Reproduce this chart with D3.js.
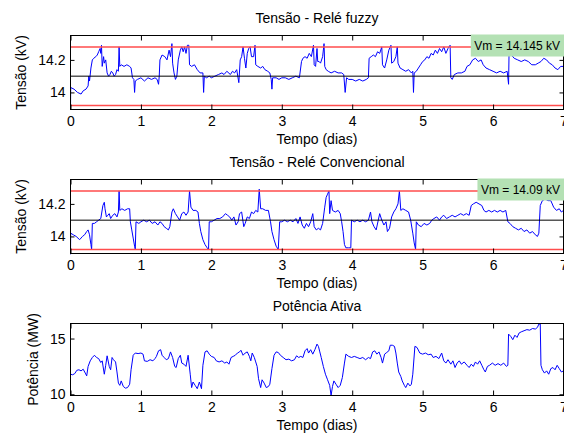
<!DOCTYPE html>
<html>
<head>
<meta charset="utf-8">
<script src="https://cdn.jsdelivr.net/npm/d3@7"></script>
<style>
  html, body { margin: 0; padding: 0; background: #fff; }
  svg { display: block; font-family: "Liberation Sans", Arial, Helvetica, sans-serif; }
</style>
</head>
<body>
<div id="chart"></div>
<script>
// ---------------------------------------------------------------------------
// data — [tempo (dias), valor]
// ---------------------------------------------------------------------------
const diasTicks = [0, 1, 2, 3, 4, 5, 6, 7];
const tensaoTicks = [14, 14.2];
const potenciaTicks = [10, 15];

const vNominal = 14.1;          // black line
const vLimites = [13.92, 14.28]; // red lines

const vmFuzzy = "Vm = 14.145 kV";
const vmConv = "Vm = 14.09 kV";

const tensaoFuzzy = [
  [0.000, 13.90], [0.003, 14.03], [0.05, 14.02], [0.10, 14.00], [0.15, 13.99], [0.18, 14.01],
  [0.22, 14.02], [0.25, 14.04], [0.26, 14.10], [0.27, 14.07], [0.29, 14.15], [0.31, 14.20],
  [0.33, 14.21], [0.36, 14.22], [0.38, 14.23], [0.40, 14.25], [0.42, 14.27], [0.43, 14.24],
  [0.44, 14.29], [0.45, 14.16], [0.47, 14.22], [0.48, 14.18], [0.50, 14.20], [0.52, 14.12],
  [0.54, 14.10], [0.56, 14.11], [0.58, 14.13], [0.60, 14.12], [0.62, 14.10], [0.64, 14.11],
  [0.66, 14.14], [0.68, 14.13], [0.69, 14.28], [0.70, 14.16], [0.72, 14.17], [0.76, 14.16],
  [0.80, 14.17], [0.84, 14.16], [0.86, 14.15], [0.88, 14.09], [0.90, 14.08], [0.91, 14.00],
  [0.92, 14.07], [0.95, 14.08], [1.00, 14.09], [1.05, 14.07], [1.10, 14.09], [1.15, 14.08],
  [1.20, 14.09], [1.23, 14.08], [1.25, 14.05], [1.26, 14.10], [1.27, 14.20], [1.30, 14.23],
  [1.34, 14.22], [1.37, 14.20], [1.40, 14.26], [1.42, 14.22], [1.44, 14.30], [1.45, 14.18],
  [1.47, 14.12], [1.49, 14.08], [1.51, 14.10], [1.53, 14.20], [1.56, 14.26], [1.58, 14.28],
  [1.60, 14.25], [1.62, 14.28], [1.64, 14.24], [1.66, 14.29], [1.68, 14.29], [1.69, 14.17],
  [1.72, 14.16], [1.76, 14.17], [1.80, 14.14], [1.84, 14.12], [1.88, 14.12], [1.89, 14.00],
  [1.90, 14.10], [1.93, 14.09], [1.97, 14.10], [2.00, 14.09], [2.05, 14.10], [2.10, 14.11],
  [2.15, 14.12], [2.18, 14.11], [2.22, 14.13], [2.27, 14.11], [2.30, 14.13], [2.33, 14.12],
  [2.36, 14.14], [2.39, 14.06], [2.41, 14.20], [2.43, 14.22], [2.45, 14.28], [2.47, 14.21],
  [2.49, 14.15], [2.51, 14.24], [2.53, 14.27], [2.55, 14.28], [2.57, 14.22], [2.60, 14.22],
  [2.62, 14.29], [2.63, 14.17], [2.66, 14.16], [2.70, 14.15], [2.73, 14.16], [2.76, 14.14],
  [2.80, 14.13], [2.83, 14.12], [2.85, 14.08], [2.86, 14.02], [2.87, 14.09], [2.92, 14.09],
  [2.96, 14.08], [3.00, 14.09], [3.05, 14.09], [3.10, 14.08], [3.15, 14.09], [3.20, 14.10],
  [3.25, 14.09], [3.28, 14.19], [3.30, 14.21], [3.33, 14.22], [3.36, 14.21], [3.39, 14.24],
  [3.42, 14.22], [3.45, 14.29], [3.46, 14.17], [3.48, 14.16], [3.50, 14.27], [3.51, 14.19],
  [3.53, 14.19], [3.55, 14.18], [3.58, 14.22], [3.60, 14.30], [3.61, 14.16], [3.63, 14.14],
  [3.66, 14.13], [3.70, 14.12], [3.75, 14.13], [3.80, 14.12], [3.85, 14.12], [3.88, 14.11],
  [3.90, 14.00], [3.92, 14.09], [3.95, 14.08], [4.00, 14.08], [4.05, 14.07], [4.10, 14.08],
  [4.15, 14.07], [4.20, 14.08], [4.23, 14.09], [4.24, 14.21], [4.27, 14.22], [4.30, 14.23],
  [4.33, 14.22], [4.36, 14.25], [4.39, 14.24], [4.42, 14.28], [4.43, 14.17], [4.46, 14.15],
  [4.49, 14.20], [4.52, 14.26], [4.55, 14.29], [4.56, 14.18], [4.59, 14.19], [4.62, 14.22],
  [4.64, 14.28], [4.65, 14.18], [4.68, 14.15], [4.72, 14.14], [4.76, 14.13], [4.80, 14.14],
  [4.84, 14.12], [4.86, 14.13], [4.87, 14.00], [4.88, 14.12], [4.91, 14.13], [4.94, 14.15],
  [4.97, 14.17], [5.00, 14.19], [5.03, 14.20], [5.06, 14.22], [5.09, 14.21], [5.12, 14.24],
  [5.15, 14.23], [5.18, 14.26], [5.21, 14.24], [5.24, 14.27], [5.27, 14.25], [5.30, 14.28],
  [5.33, 14.24], [5.36, 14.27], [5.39, 14.29], [5.40, 14.09], [5.42, 14.08], [5.45, 14.11],
  [5.50, 14.12], [5.55, 14.12], [5.60, 14.13], [5.63, 14.16], [5.67, 14.17], [5.71, 14.20],
  [5.75, 14.21], [5.79, 14.19], [5.83, 14.20], [5.86, 14.17], [5.90, 14.15], [5.95, 14.14],
  [6.00, 14.13], [6.05, 14.12], [6.10, 14.13], [6.15, 14.12], [6.20, 14.13], [6.22, 14.05],
  [6.23, 14.33], [6.26, 14.23], [6.30, 14.21], [6.35, 14.20], [6.40, 14.19], [6.45, 14.20],
  [6.50, 14.19], [6.55, 14.17], [6.60, 14.17], [6.64, 14.18], [6.68, 14.19], [6.72, 14.21],
  [6.76, 14.20], [6.80, 14.18], [6.84, 14.17], [6.88, 14.15], [6.92, 14.14], [6.96, 14.16],
  [7.00, 14.16]
];

const tensaoConv = [
  [0.000, 13.89], [0.003, 14.02], [0.04, 14.01], [0.08, 14.00], [0.13, 13.98], [0.17, 14.00],
  [0.20, 14.01], [0.23, 14.03], [0.25, 14.04], [0.27, 14.01], [0.29, 13.95], [0.30, 13.92],
  [0.31, 14.08], [0.34, 14.08], [0.37, 14.09], [0.40, 14.10], [0.43, 14.11], [0.46, 14.19],
  [0.48, 14.21], [0.49, 14.17], [0.51, 14.12], [0.53, 14.13], [0.55, 14.14], [0.57, 14.11],
  [0.60, 14.13], [0.63, 14.14], [0.66, 14.12], [0.68, 14.15], [0.69, 14.28], [0.70, 14.16],
  [0.73, 14.17], [0.77, 14.16], [0.81, 14.17], [0.84, 14.17], [0.85, 14.09], [0.87, 14.04],
  [0.89, 13.99], [0.91, 13.94], [0.92, 13.92], [0.93, 14.09], [0.97, 14.08], [1.00, 14.09],
  [1.04, 14.10], [1.08, 14.09], [1.12, 14.10], [1.16, 14.08], [1.20, 14.09], [1.24, 14.07],
  [1.27, 14.09], [1.30, 14.08], [1.33, 14.06], [1.36, 14.05], [1.39, 14.04], [1.41, 14.06],
  [1.44, 14.15], [1.46, 14.17], [1.49, 14.14], [1.52, 14.12], [1.55, 14.10], [1.58, 14.14],
  [1.61, 14.15], [1.64, 14.13], [1.67, 14.15], [1.69, 14.28], [1.71, 14.18], [1.74, 14.16],
  [1.78, 14.16], [1.81, 14.15], [1.83, 14.08], [1.85, 14.03], [1.88, 13.98], [1.91, 13.95],
  [1.94, 13.93], [1.96, 13.92], [1.97, 14.09], [2.00, 14.09], [2.04, 14.10], [2.08, 14.11],
  [2.12, 14.11], [2.16, 14.12], [2.20, 14.14], [2.23, 14.13], [2.26, 14.12], [2.29, 14.10],
  [2.32, 14.12], [2.35, 14.07], [2.38, 14.09], [2.40, 14.14], [2.43, 14.15], [2.46, 14.06],
  [2.48, 14.08], [2.51, 14.12], [2.54, 14.11], [2.57, 14.15], [2.60, 14.14], [2.63, 14.16],
  [2.66, 14.15], [2.68, 14.29], [2.70, 14.17], [2.73, 14.17], [2.77, 14.16], [2.81, 14.16],
  [2.84, 14.09], [2.86, 14.03], [2.89, 13.98], [2.92, 13.94], [2.95, 13.92], [2.97, 14.09],
  [3.00, 14.09], [3.04, 14.10], [3.08, 14.09], [3.12, 14.10], [3.16, 14.09], [3.20, 14.11],
  [3.23, 14.08], [3.26, 14.12], [3.29, 14.07], [3.32, 14.05], [3.35, 14.08], [3.38, 14.06],
  [3.41, 14.09], [3.44, 14.14], [3.46, 14.06], [3.49, 14.04], [3.52, 14.05], [3.55, 14.04],
  [3.58, 14.08], [3.61, 14.18], [3.63, 14.24], [3.65, 14.26], [3.67, 14.28], [3.68, 14.14],
  [3.70, 14.22], [3.72, 14.16], [3.76, 14.15], [3.80, 14.16], [3.83, 14.14], [3.85, 14.09],
  [3.87, 14.03], [3.89, 13.95], [3.91, 13.93], [3.95, 13.93], [3.98, 13.93], [3.99, 14.10],
  [4.03, 14.09], [4.07, 14.10], [4.11, 14.09], [4.15, 14.10], [4.19, 14.09], [4.23, 14.10],
  [4.26, 14.15], [4.28, 14.09], [4.31, 14.06], [4.34, 14.04], [4.37, 14.10], [4.39, 14.14],
  [4.42, 14.10], [4.45, 14.07], [4.48, 14.09], [4.50, 14.03], [4.53, 14.05], [4.56, 14.12],
  [4.59, 14.15], [4.62, 14.17], [4.65, 14.20], [4.67, 14.28], [4.69, 14.16], [4.72, 14.17],
  [4.76, 14.16], [4.80, 14.15], [4.83, 14.10], [4.86, 14.02], [4.88, 13.96], [4.90, 13.92],
  [4.91, 14.09], [4.94, 14.07], [4.98, 14.06], [5.02, 14.08], [5.06, 14.07], [5.10, 14.08],
  [5.13, 14.10], [5.16, 14.11], [5.20, 14.12], [5.24, 14.10], [5.27, 14.12], [5.30, 14.13],
  [5.34, 14.11], [5.38, 14.12], [5.42, 14.13], [5.46, 14.12], [5.50, 14.13], [5.54, 14.14],
  [5.58, 14.13], [5.62, 14.14], [5.66, 14.13], [5.69, 14.19], [5.72, 14.20], [5.76, 14.21],
  [5.80, 14.20], [5.84, 14.19], [5.87, 14.16], [5.90, 14.15], [5.94, 14.16], [5.98, 14.15],
  [6.02, 14.16], [6.06, 14.15], [6.10, 14.16], [6.14, 14.15], [6.18, 14.16], [6.21, 14.09],
  [6.24, 14.08], [6.28, 14.06], [6.32, 14.05], [6.36, 14.04], [6.40, 14.05], [6.44, 14.03],
  [6.48, 14.04], [6.52, 14.02], [6.56, 14.03], [6.60, 14.01], [6.63, 14.00], [6.65, 14.02],
  [6.67, 14.19], [6.70, 14.22], [6.74, 14.23], [6.78, 14.22], [6.82, 14.22], [6.86, 14.18],
  [6.90, 14.16], [6.94, 14.17], [6.97, 14.15], [7.00, 14.16]
];

const potencia = [
  [0.00, 11.80], [0.03, 11.75], [0.06, 11.85], [0.09, 12.15], [0.12, 12.20], [0.15, 12.10],
  [0.18, 12.25], [0.21, 11.90], [0.23, 11.65], [0.25, 12.50], [0.28, 13.00], [0.31, 13.30],
  [0.34, 13.50], [0.37, 13.30], [0.40, 13.20], [0.43, 12.85], [0.45, 13.00], [0.48, 11.80],
  [0.50, 12.60], [0.52, 13.45], [0.55, 12.50], [0.57, 12.20], [0.59, 13.30], [0.61, 13.10],
  [0.64, 12.90], [0.66, 12.00], [0.68, 11.00], [0.70, 10.80], [0.72, 11.20], [0.75, 10.70],
  [0.78, 10.55], [0.81, 10.60], [0.84, 10.90], [0.86, 12.20], [0.89, 13.50], [0.92, 13.70],
  [0.96, 13.65], [1.00, 13.70], [1.03, 13.60], [1.05, 13.00], [1.09, 12.95], [1.13, 13.10],
  [1.17, 13.00], [1.20, 13.20], [1.22, 13.40], [1.25, 13.90], [1.28, 14.00], [1.30, 13.50],
  [1.33, 13.30], [1.36, 13.10], [1.39, 13.20], [1.42, 13.80], [1.45, 13.30], [1.48, 12.50],
  [1.50, 12.40], [1.53, 13.20], [1.56, 13.50], [1.58, 12.80], [1.61, 12.70], [1.64, 12.50],
  [1.67, 13.50], [1.70, 11.80], [1.72, 10.60], [1.74, 11.10], [1.77, 10.80], [1.80, 10.50],
  [1.83, 11.10], [1.86, 10.50], [1.88, 12.60], [1.91, 13.80], [1.94, 13.90], [1.97, 13.60],
  [2.00, 13.40], [2.04, 13.30], [2.07, 13.00], [2.11, 12.90], [2.15, 13.00], [2.19, 12.80],
  [2.22, 12.90], [2.25, 12.70], [2.28, 13.30], [2.31, 13.40], [2.34, 13.50], [2.37, 13.70],
  [2.40, 13.80], [2.42, 13.95], [2.45, 13.50], [2.48, 13.70], [2.51, 13.80], [2.54, 13.40],
  [2.56, 13.00], [2.58, 13.70], [2.61, 13.30], [2.63, 12.90], [2.65, 12.50], [2.67, 11.40],
  [2.70, 10.60], [2.72, 11.30], [2.75, 11.00], [2.78, 10.60], [2.81, 10.70], [2.83, 10.90],
  [2.86, 12.30], [2.89, 13.50], [2.92, 13.80], [2.95, 13.75], [2.98, 13.50], [3.02, 13.30],
  [3.06, 13.10], [3.10, 13.15], [3.14, 13.00], [3.18, 13.10], [3.21, 13.45], [3.24, 13.30],
  [3.27, 13.40], [3.30, 13.30], [3.33, 13.90], [3.36, 14.10], [3.38, 13.70], [3.41, 14.00],
  [3.44, 13.60], [3.47, 14.00], [3.50, 14.50], [3.52, 14.30], [3.54, 13.80], [3.56, 13.30],
  [3.59, 12.50], [3.62, 11.80], [3.65, 11.30], [3.68, 10.80], [3.70, 9.90], [3.72, 10.70],
  [3.74, 11.20], [3.77, 10.90], [3.80, 10.60], [3.83, 10.80], [3.86, 11.50], [3.89, 12.80],
  [3.91, 13.60], [3.95, 13.40], [3.99, 13.30], [4.03, 13.40], [4.07, 13.30], [4.11, 13.20],
  [4.15, 13.30], [4.19, 13.10], [4.23, 13.30], [4.26, 13.20], [4.29, 13.80], [4.32, 13.90],
  [4.35, 13.60], [4.38, 13.80], [4.41, 13.30], [4.43, 12.80], [4.46, 13.60], [4.49, 13.75],
  [4.52, 13.90], [4.54, 14.40], [4.57, 14.40], [4.60, 14.30], [4.62, 13.70], [4.64, 12.80],
  [4.66, 12.00], [4.69, 11.60], [4.71, 11.20], [4.74, 10.80], [4.76, 10.60], [4.79, 11.00],
  [4.82, 10.75], [4.84, 10.90], [4.86, 11.80], [4.89, 14.30], [4.92, 14.20], [4.96, 13.70],
  [5.00, 13.60], [5.04, 13.70], [5.08, 13.55], [5.12, 13.60], [5.15, 13.30], [5.19, 13.40],
  [5.23, 13.20], [5.27, 13.70], [5.30, 13.00], [5.33, 12.80], [5.36, 13.10], [5.40, 12.70],
  [5.43, 13.00], [5.46, 12.40], [5.49, 12.80], [5.52, 13.00], [5.55, 12.70], [5.59, 12.90],
  [5.63, 12.60], [5.66, 12.40], [5.69, 12.70], [5.72, 12.50], [5.75, 12.90], [5.78, 12.70],
  [5.81, 13.00], [5.84, 12.60], [5.87, 12.20], [5.89, 12.00], [5.92, 12.50], [5.95, 12.60],
  [5.99, 12.80], [6.03, 12.60], [6.07, 12.75], [6.11, 12.60], [6.15, 12.80], [6.19, 12.50],
  [6.21, 12.60], [6.22, 15.40], [6.25, 15.20], [6.28, 14.90], [6.31, 15.30], [6.34, 15.10],
  [6.37, 15.50], [6.40, 15.60], [6.44, 15.70], [6.48, 15.80], [6.52, 15.75], [6.56, 15.90],
  [6.60, 15.85], [6.63, 16.00], [6.65, 16.30], [6.67, 16.30], [6.68, 12.60], [6.70, 12.20],
  [6.73, 11.90], [6.76, 12.10], [6.79, 11.80], [6.82, 12.30], [6.85, 12.40], [6.88, 12.20],
  [6.91, 12.60], [6.94, 12.30], [6.97, 12.00], [7.00, 12.10]
];

// ---------------------------------------------------------------------------
// layout
// ---------------------------------------------------------------------------
const W = 564, H = 434;
const FONT = 14;

const svg = d3.select("#chart").append("svg")
  .attr("width", W).attr("height", H)
  .attr("viewBox", `0 0 ${W} ${H}`);

const x = d3.scaleLinear().domain([0, 7]).range([70.5, 563.5]);
const line = (ys) => d3.line().x(d => x(d[0])).y(d => ys(d[1]));

function drawPanel(p) {
  const y = d3.scaleLinear().domain(p.yDomain).range([p.bottom, p.top]);
  const g = svg.append("g");

  // data
  g.append("path")
    .datum(p.data)
    .attr("d", line(y))
    .attr("fill", "none")
    .attr("stroke", "#0000ff")
    .attr("stroke-width", 1);

  // reference lines (only on the voltage panels)
  if (p.refs) {
    vLimites.forEach(v => {
      g.append("line")
        .attr("x1", x(0)).attr("x2", x(7))
        .attr("y1", y(v)).attr("y2", y(v))
        .attr("stroke", "#ff4d4d").attr("stroke-width", 1.5);
    });
    g.append("line")
      .attr("x1", x(0)).attr("x2", x(7))
      .attr("y1", y(vNominal)).attr("y2", y(vNominal))
      .attr("stroke", "#000").attr("stroke-width", 1);
  }

  // axes — MATLAB style, ticks pointing inward on all sides
  const styleAxis = sel => {
    sel.select(".domain").remove();
    sel.selectAll("text").attr("font-size", FONT).attr("fill", "#000")
      .attr("font-family", "Liberation Sans, Arial, sans-serif");
    sel.selectAll("line").attr("stroke", "#000");
  };
  g.append("g").attr("transform", `translate(0,${p.bottom})`)
    .call(d3.axisBottom(x).tickValues(diasTicks).tickFormat(d3.format("d"))
      .tickSizeInner(-5).tickSizeOuter(0).tickPadding(6.5))
    .call(styleAxis);
  g.append("g").attr("transform", `translate(0,${p.top})`)
    .call(d3.axisTop(x).tickValues(diasTicks).tickFormat("")
      .tickSizeInner(-5).tickSizeOuter(0))
    .call(styleAxis);
  g.append("g").attr("transform", `translate(${x(0)},0)`)
    .call(d3.axisLeft(y).tickValues(p.yTicks).tickFormat(d => String(d))
      .tickSizeInner(-4).tickSizeOuter(0).tickPadding(5))
    .call(styleAxis);
  g.append("g").attr("transform", `translate(${x(7)},0)`)
    .call(d3.axisRight(y).tickValues(p.yTicks).tickFormat("")
      .tickSizeInner(-4).tickSizeOuter(0))
    .call(styleAxis);

  g.append("rect")
    .attr("x", x(0)).attr("y", p.top)
    .attr("width", x(7) - x(0)).attr("height", p.bottom - p.top)
    .attr("fill", "none").attr("stroke", "#000").attr("stroke-width", 1);

  // green annotation box (top right)
  if (p.label) {
    const lab = g.append("g");
    const box = lab.append("rect").attr("fill", "#b4e1b4");
    const t = lab.append("text")
      .attr("x", 560).attr("y", p.top + 14.5)
      .attr("text-anchor", "end")
      .attr("font-size", 12)
      .text(p.label);
    const w = t.node().getComputedTextLength();
    box.attr("x", 560 - w - 3.5).attr("y", p.top - 1)
      .attr("width", w + 12).attr("height", 22);
  }

  // titles and labels
  g.append("text")
    .attr("x", (x(0) + x(7)) / 2).attr("y", p.top - 13)
    .attr("text-anchor", "middle").attr("font-size", FONT)
    .text(p.title);
  g.append("text")
    .attr("x", (x(0) + x(7)) / 2).attr("y", p.bottom + 34.5)
    .attr("text-anchor", "middle").attr("font-size", FONT)
    .text("Tempo (dias)");
  g.append("text")
    .attr("transform", `translate(${p.ylabelX},${(p.top + p.bottom) / 2}) rotate(-90)`)
    .attr("text-anchor", "middle").attr("font-size", FONT)
    .text(p.ylabel);
}

drawPanel({
  top: 35.5, bottom: 109.5, yDomain: [13.895, 14.35], yTicks: tensaoTicks,
  data: tensaoFuzzy, refs: true, label: vmFuzzy,
  title: "Tensão - Relé fuzzy", ylabel: "Tensão (kV)", ylabelX: 25.5
});
drawPanel({
  top: 179.5, bottom: 253.5, yDomain: [13.895, 14.35], yTicks: tensaoTicks,
  data: tensaoConv, refs: true, label: vmConv,
  title: "Tensão - Relé Convencional", ylabel: "Tensão (kV)", ylabelX: 25.5
});
drawPanel({
  top: 323.5, bottom: 395.5, yDomain: [9.89, 16.35], yTicks: potenciaTicks,
  data: potencia, refs: false, label: null,
  title: "Potência Ativa", ylabel: "Potência (MW)", ylabelX: 37.5
});
</script>
</body>
</html>
